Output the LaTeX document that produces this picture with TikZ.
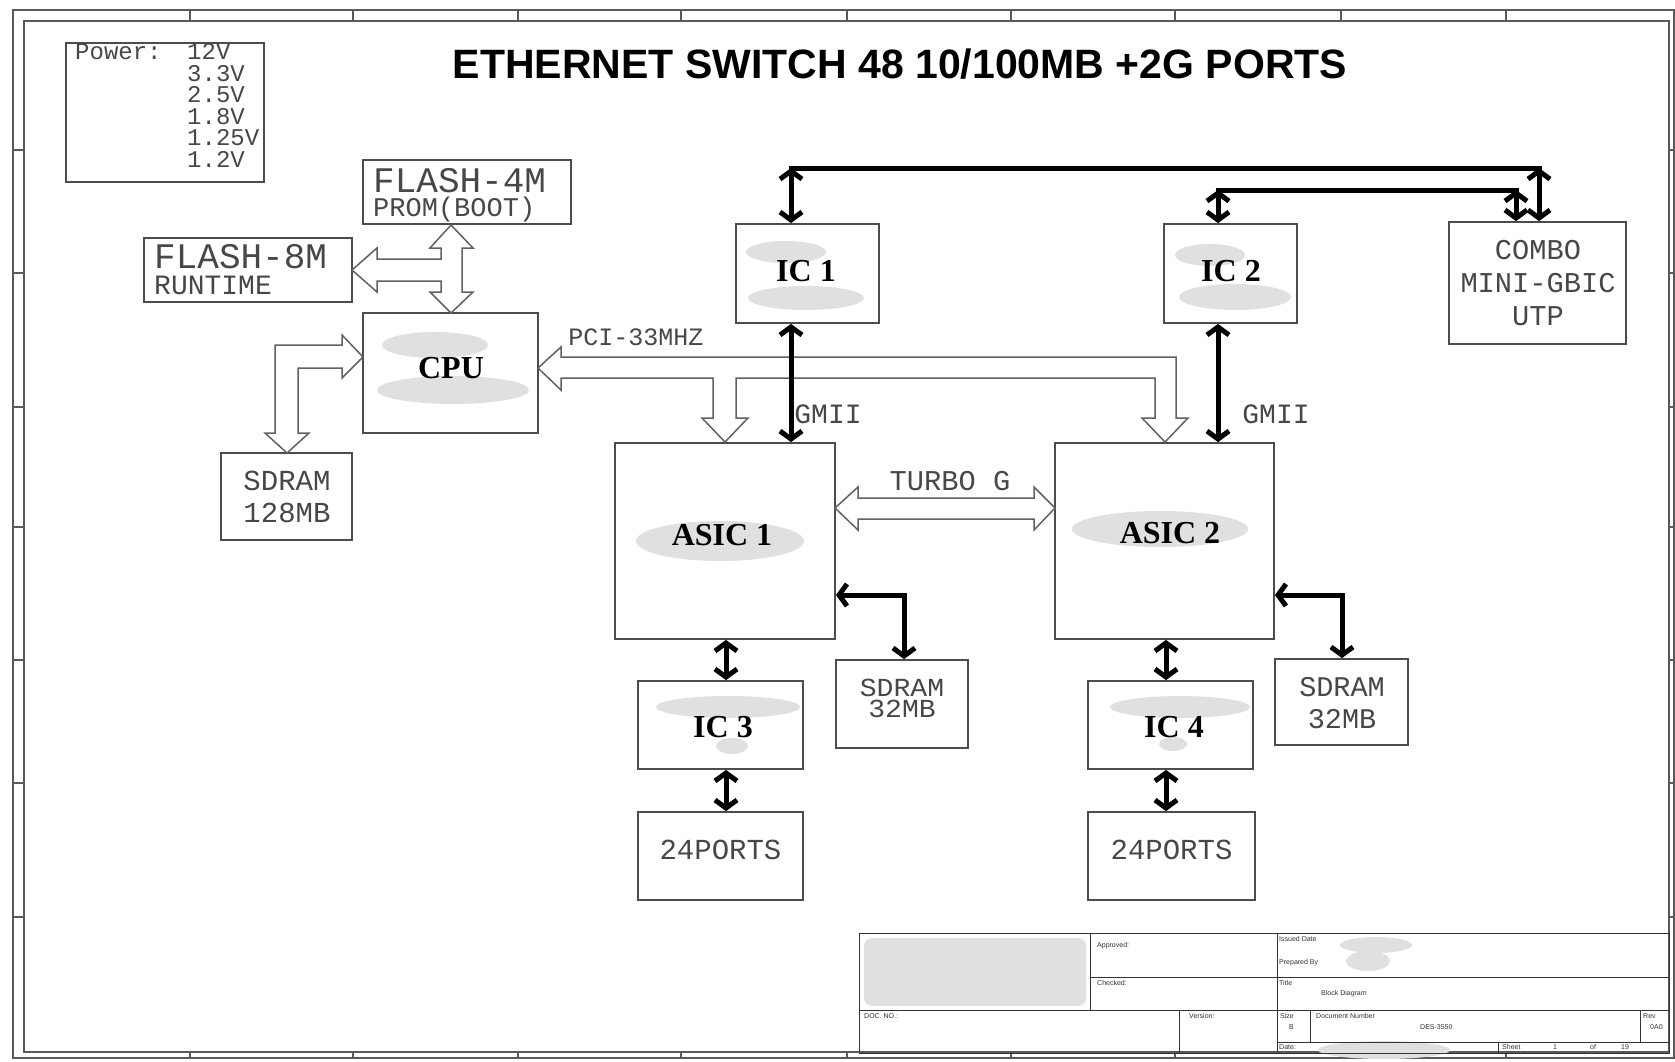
\documentclass[tikz,border=0pt]{standalone}
\usepackage{fontspec}
\setmainfont{Liberation Serif}
\newfontfamily\monof{Liberation Mono}
\newfontfamily\sansf{Liberation Sans}
\usetikzlibrary{arrows.meta,calc}
\newcommand\msz[1]{\monof\fontsize{#1}{#1}\selectfont}
\newcommand\tsz{\sansf\fontsize{7}{8}\selectfont}
\tikzset{
  boxst/.style={draw=black!70, line width=1.8pt, inner sep=0pt},
  mtxt/.style={inner sep=0pt, text=black!72},
  hollow/.style={draw=black!62, line width=1.5pt, fill=white, line join=miter},
  blk/.style={line width=5pt, black, {Straight Barb[length=8pt,width=22pt]}-{Straight Barb[length=8pt,width=22pt]}},
  busline/.style={line width=5pt, black, line cap=rect},
  blob/.style={fill=gray!24},
  lab/.style={font=\bfseries\fontsize{32}{32}\selectfont, text=black, inner sep=0pt},
  tb/.style={draw=black!80, line width=0.9pt},
  tbt/.style={font=\tsz, text=black!80, inner sep=0pt, anchor=west},
  frame/.style={draw=black!65, line width=1.2pt},
}
\begin{document}
\begin{tikzpicture}[x=1pt,y=-1pt]
\useasboundingbox (0,0) rectangle (1675,1062);
\fill[white] (0,0) rectangle (1675,1062);

% ---------- frame ----------
\draw[frame] (13,10) rectangle (1674,1058);
\draw[frame] (24,21) rectangle (1669,1052);
\foreach \x in {190,353,518,681,847,1011,1175,1341,1506}{
  \draw[frame] (\x,10) -- (\x,21);
  \draw[frame] (\x,1052) -- (\x,1058);
}
\foreach \y in {150,273,407,527,660,783,917}{
  \draw[frame] (13,\y) -- (24,\y);
  \draw[frame] (1669,\y) -- (1674,\y);
}

% ---------- title ----------
\node[inner sep=0pt, font=\sansf\bfseries\fontsize{41}{41}\selectfont] (title) at (900,64) {ETHERNET SWITCH 48 10/100MB +2G PORTS};

% ---------- power box ----------
\node[boxst, minimum width=198pt, minimum height=139pt] (power) at (165,112.5) {};
\node[mtxt, anchor=base west, font=\msz{24}] (pwrlab) at (75,60) {Power:};
\foreach \t [count=\i] in {12V,3.3V,2.5V,1.8V,1.25V,1.2V}
  \node[mtxt, anchor=base west, font=\msz{24}] (pv\i) at (187,{60+21.4*(\i-1)}) {\t};

% ---------- gray smudges ----------
\fill[blob] (435,345) ellipse (53 and 13);
\fill[blob] (453,390) ellipse (76 and 14);
\fill[blob] (786,252) ellipse (40 and 11);
\fill[blob] (806,298) ellipse (58 and 12);
\fill[blob] (1210,255) ellipse (35 and 11);
\fill[blob] (1235,297) ellipse (56 and 13);
\fill[blob] (720,541) ellipse (84 and 20);
\fill[blob] (1160,529) ellipse (88 and 18);
\fill[blob] (728,707) ellipse (72 and 11);
\fill[blob] (732,746) ellipse (16 and 8);
\fill[blob] (1180,707) ellipse (70 and 11);
\fill[blob] (1173,744) ellipse (14 and 7);

% ---------- boxes ----------
\node[boxst, minimum width=208pt, minimum height=64pt] (flash4) at (467,192) {};
\node[mtxt, anchor=base west, font=\msz{36}] (f4a) at (373,192) {FLASH-4M};
\node[mtxt, anchor=base west, font=\msz{27}] (f4b) at (373,216) {PROM(BOOT)};

\node[boxst, minimum width=208pt, minimum height=64pt] (flash8) at (248,270) {};
\node[mtxt, anchor=base west, font=\msz{36}] (f8a) at (154,268) {FLASH-8M};
\node[mtxt, anchor=base west, font=\msz{28}] (f8b) at (154,294) {RUNTIME};

\node[boxst, minimum width=175pt, minimum height=120pt] (cpu) at (450.5,373) {};
\node[lab] (cpul) at (451,368) {CPU};

\node[boxst, minimum width=131pt, minimum height=87pt] (sd128) at (286.5,496.5) {};
\node[mtxt, font=\msz{29}] (sd128a) at (287,481) {SDRAM};
\node[mtxt, font=\msz{29}] (sd128b) at (287,513) {128MB};

\node[boxst, minimum width=143pt, minimum height=99pt] (ic1) at (807.5,273.5) {};
\node[lab] (ic1l) at (806,271) {IC 1};
\node[boxst, minimum width=133pt, minimum height=99pt] (ic2) at (1230.5,273.5) {};
\node[lab] (ic2l) at (1231,271) {IC 2};

\node[boxst, minimum width=177pt, minimum height=122pt] (combo) at (1537.5,283) {};
\node[mtxt, font=\msz{28.7}] (coa) at (1538,250) {COMBO};
\node[mtxt, font=\msz{28.7}] (cob) at (1538,283) {MINI-GBIC};
\node[mtxt, font=\msz{28.7}] (coc) at (1538,316) {UTP};

\node[boxst, minimum width=220pt, minimum height=196pt] (asic1) at (725,541) {};
\node[lab] (asic1l) at (722,535) {ASIC 1};
\node[boxst, minimum width=219pt, minimum height=196pt] (asic2) at (1164.5,541) {};
\node[lab] (asic2l) at (1170,533) {ASIC 2};

\node[boxst, minimum width=132pt, minimum height=88pt] (sd1) at (902,704) {};
\node[mtxt, anchor=base, font=\msz{26}, xscale=1.08] (sd1a) at (902,696) {SDRAM};
\node[mtxt, anchor=base, font=\msz{26}, xscale=1.08] (sd1b) at (902,717) {32MB};
\node[boxst, minimum width=133pt, minimum height=86pt] (sd2) at (1341.5,702) {};
\node[mtxt, font=\msz{28.5}] (sd2a) at (1342,687) {SDRAM};
\node[mtxt, font=\msz{28.5}] (sd2b) at (1342,719) {32MB};

\node[boxst, minimum width=165pt, minimum height=88pt] (ic3) at (720.5,725) {};
\node[lab] (ic3l) at (723,727) {IC 3};
\node[boxst, minimum width=165pt, minimum height=88pt] (ic4) at (1170.5,725) {};
\node[lab] (ic4l) at (1174,727) {IC 4};

\node[boxst, minimum width=165pt, minimum height=88pt] (p1) at (720.5,856) {};
\node[mtxt, font=\msz{29}] (p1t) at (720.5,850) {24PORTS};
\node[boxst, minimum width=167pt, minimum height=88pt] (p2) at (1171.5,856) {};
\node[mtxt, font=\msz{29}] (p2t) at (1171.5,850) {24PORTS};

% ---------- hollow bus arrows ----------
% FLASH-4M <-> CPU with branch to FLASH-8M
\draw[hollow] (451,225) -- (473,248) -- (462,248) -- (462,292) -- (473,292) -- (451,313)
  -- (430,292) -- (441,292) -- (441,281) -- (377,281) -- (377,292) -- (352,270)
  -- (377,248) -- (377,259) -- (441,259) -- (441,248) -- (430,248) -- cycle;
% CPU <-> SDRAM 128MB
\draw[hollow] (363,357) -- (342,378) -- (342,368) -- (298,368) -- (298,433) -- (309,433)
  -- (287,453) -- (265,433) -- (275,433) -- (275,345) -- (342,345) -- (342,335) -- cycle;
% PCI bus
\draw[hollow] (538,368) -- (561,347) -- (561,357) -- (1176,357) -- (1176,418) -- (1188,418)
  -- (1165,442) -- (1142,418) -- (1155,418) -- (1155,378) -- (736,378) -- (736,418)
  -- (748,418) -- (725,442) -- (702,418) -- (713,418) -- (713,378) -- (561,378)
  -- (561,390) -- cycle;
% TURBO G
\draw[hollow] (835,508) -- (858,487) -- (858,498) -- (1034,498) -- (1034,487) -- (1055,508)
  -- (1034,530) -- (1034,519) -- (858,519) -- (858,530) -- cycle;

\node[mtxt, font=\msz{25}] (pci) at (636,337) {PCI-33MHZ};
\node[mtxt, font=\msz{28.7}] (turbo) at (950,481) {TURBO G};
\node[mtxt, font=\msz{28}] (gmii1) at (828,414) {GMII};
\node[mtxt, font=\msz{28}] (gmii2) at (1276,414) {GMII};

% ---------- black arrows ----------
\coordinate (b1l) at (791,168);
\coordinate (b1r) at (1539,168);
\coordinate (b2l) at (1218,190);
\coordinate (b2r) at (1516,190);
\draw[busline] (b1l) -- (b1r);
\draw[busline] (b2l) -- (b2r);
\draw[blk] (b1l) -- (b1l |- ic1.north);
\draw[blk] (b1r) -- (b1r |- combo.north);
\draw[blk] (b2l) -- (b2l |- ic2.north);
\draw[blk] (b2r) -- (b2r |- combo.north);
\draw[blk] (b1l |- ic1.south) -- (b1l |- asic1.north);
\draw[blk] (b2l |- ic2.south) -- (b2l |- asic2.north);

\coordinate (v1) at (726,0);
\coordinate (v2) at (1166,0);
\draw[blk] (v1 |- asic1.south) -- (v1 |- ic3.north);
\draw[blk] (v1 |- ic3.south) -- (v1 |- p1.north);
\draw[blk] (v2 |- asic2.south) -- (v2 |- ic4.north);
\draw[blk] (v2 |- ic4.south) -- (v2 |- p2.north);

\draw[blk, line join=miter] ($(asic1.east)+(0,54)$) -- (904,595) -- (904,0 |- sd1.north);
\draw[blk, line join=miter] ($(asic2.east)+(0,54)$) -- (1342,595) -- (1342,0 |- sd2.north);

% ---------- title block ----------
\fill[blob, rounded corners=8pt] (864,938) rectangle (1086,1006);
\fill[blob] (1376,945) ellipse (36 and 8);
\fill[blob] (1368,961) ellipse (22 and 10);
\fill[blob] (1384,1050) ellipse (66 and 9);
\draw[tb] (859,933) rectangle (1669,1053);
\draw[tb] (1090,933) -- (1090,1010);
\draw[tb] (1277,933) -- (1277,1053);
\draw[tb] (1090,977) -- (1669,977);
\draw[tb] (859,1010) -- (1669,1010);
\draw[tb] (1179,1010) -- (1179,1053);
\draw[tb] (1310,1010) -- (1310,1042);
\draw[tb] (1277,1042) -- (1669,1042);
\draw[tb] (1640,1010) -- (1640,1042);
\draw[tb] (1498,1042) -- (1498,1053);

\node[tbt] (t1) at (1097,946) {Approved:};
\node[tbt] (t2) at (1097,983) {Checked:};
\node[tbt] (t3) at (1279,939) {Issued Date};
\node[tbt] (t4) at (1279,963) {Prepared By};
\node[tbt] (t5) at (1279,983) {Title};
\node[tbt] (t6) at (1321,994) {Block Diagram};
\node[tbt] (t7) at (864,1016) {DOC. NO.:};
\node[tbt] (t8) at (1189,1016) {Version:};
\node[tbt] (t9) at (1280,1016) {Size};
\node[tbt] (t10) at (1289,1027) {B};
\node[tbt] (t11) at (1316,1016) {Document Number};
\node[tbt] (t12) at (1420,1027) {DES-3550};
\node[tbt] (t13) at (1643,1016) {Rev};
\node[tbt] (t14) at (1650,1027) {0A0};
\node[tbt] (t15) at (1279,1047) {Date:};
\node[tbt] (t16) at (1502,1047) {Sheet};
\node[tbt] (t17) at (1553,1047) {1};
\node[tbt] (t18) at (1590,1047) {of};
\node[tbt] (t19) at (1621,1047) {19};
\end{tikzpicture}
\end{document}
